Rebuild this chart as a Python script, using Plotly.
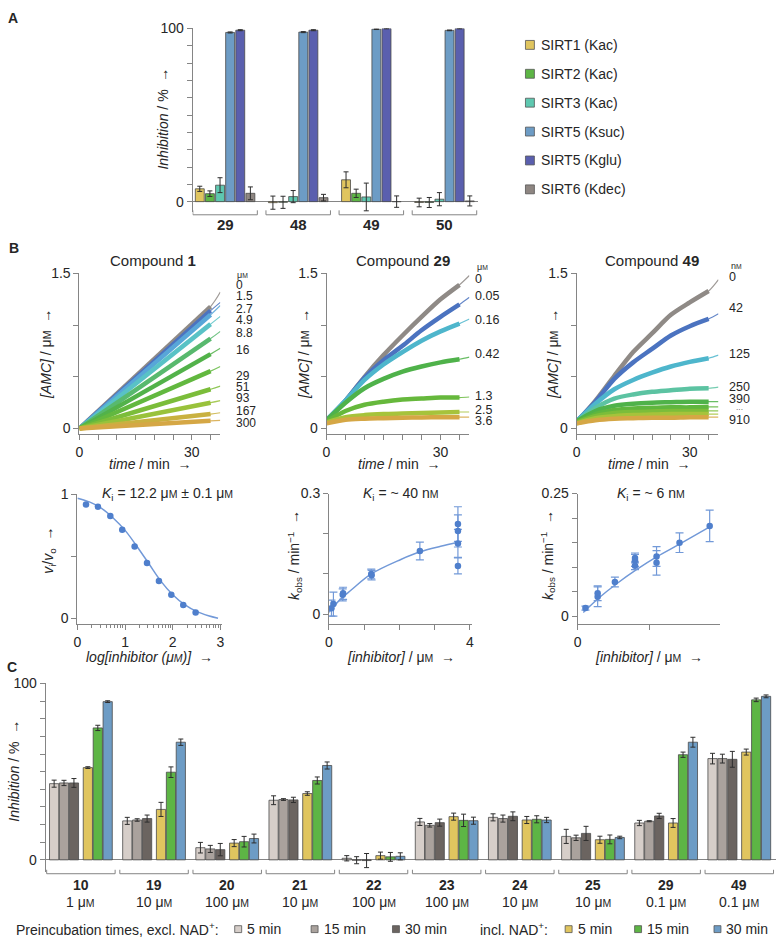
import numpy as np
import plotly.graph_objects as go

W, H = 780, 944


def fx(p):
    return p / W


def fy(p):
    return 1 - p / H


FONT = "Liberation Sans, Arial, Helvetica, sans-serif"
AX = "#858585"
TXT = "#262626"
BAR_EDGE = "#4a4a4a"
ERR = "#2e2e2e"
UM = "μ<span style='font-size:0.75em'>M</span>"
NM = "n<span style='font-size:0.75em'>M</span>"

# ================= DATA =================
# ---- Panel A: selectivity (% inhibition)
a_compounds = ["29", "48", "49", "50"]
a_series = ["SIRT1 (Kac)", "SIRT2 (Kac)", "SIRT3 (Kac)", "SIRT5 (Ksuc)", "SIRT5 (Kglu)", "SIRT6 (Kdec)"]
a_sirt1 = [7.4, -0.6, 12.6, -0.5]
a_sirt1_err = [1.5, 3.8, 4.6, 2.5]
a_sirt2 = [4.6, -0.4, 4.8, -0.5]
a_sirt2_err = [1.6, 3.5, 2.4, 2.9]
a_sirt3 = [9.5, 2.9, 2.7, 1.4]
a_sirt3_err = [4.3, 3.5, 8.0, 3.8]
a_sirt5_suc = [97.7, 97.9, 99.6, 98.9]
a_sirt5_suc_err = [0.3, 0.3, 0.2, 0.2]
a_sirt5_glu = [99.0, 99.0, 100.0, 100.0]
a_sirt5_glu_err = [0.3, 0.3, 0.2, 0.2]
a_sirt6 = [4.8, 2.3, 0.0, 0.4]
a_sirt6_err = [3.7, 1.9, 3.3, 2.9]

# ---- Panel B top: progress curves [AMC] (uM) vs time (min)
c1_conc = ["0", "1.5", "2.7", "4.9", "8.8", "16", "29", "51", "93", "167", "300"]
c1_times = [0, 35]
c1_amc = [[0, 1.18], [0, 1.14], [0, 1.10], [0, 1.01], [0, 0.87], [0, 0.72],
          [0, 0.555], [0, 0.38], [0, 0.25], [0, 0.14], [0, 0.075]]
c1_fit_end = [1.32, 1.22, 1.19, 1.085, 0.94, 0.776, 0.60, 0.41, 0.27, 0.153, 0.08]

c29_conc = ["0", "0.05", "0.16", "0.42", "1.3", "2.5", "3.6"]
c29_times = [0, 5, 10, 15, 20, 25, 30, 35]
c29_amc = [
    [0.08, 0.27, 0.50, 0.71, 0.90, 1.08, 1.25, 1.39],
    [0.08, 0.27, 0.49, 0.66, 0.80, 0.95, 1.08, 1.20],
    [0.08, 0.27, 0.47, 0.62, 0.74, 0.85, 0.94, 1.015],
    [0.08, 0.25, 0.39, 0.48, 0.55, 0.60, 0.64, 0.67],
    [0.07, 0.17, 0.23, 0.26, 0.28, 0.29, 0.30, 0.30],
    [0.06, 0.11, 0.13, 0.14, 0.145, 0.15, 0.155, 0.16],
    [0.05, 0.085, 0.095, 0.10, 0.105, 0.108, 0.11, 0.11]]
c29_fit_end = [1.48, 1.27, 1.06, 0.69, 0.305, 0.16, 0.11]

c49_conc = ["0", "42", "125", "250", "390", "", "", "", "910"]
c49_times = [0, 5, 10, 15, 20, 25, 30, 35]
c49_amc = [
    [0.06, 0.27, 0.51, 0.74, 0.92, 1.10, 1.22, 1.33],
    [0.07, 0.26, 0.48, 0.64, 0.77, 0.90, 0.99, 1.06],
    [0.07, 0.24, 0.38, 0.47, 0.54, 0.60, 0.645, 0.68],
    [0.07, 0.20, 0.29, 0.33, 0.355, 0.37, 0.385, 0.39],
    [0.07, 0.17, 0.22, 0.24, 0.25, 0.255, 0.26, 0.26],
    [0.06, 0.14, 0.18, 0.195, 0.20, 0.205, 0.205, 0.21],
    [0.06, 0.12, 0.15, 0.16, 0.165, 0.17, 0.17, 0.17],
    [0.05, 0.10, 0.12, 0.13, 0.135, 0.14, 0.14, 0.14],
    [0.05, 0.08, 0.095, 0.10, 0.105, 0.105, 0.11, 0.11]]
c49_fit_end = [1.44, 1.11, 0.71, 0.40, 0.26, 0.21, 0.17, 0.14, 0.11]
fit_end_time = 37.6

# ---- Panel B bottom
b1_logc = [0.18, 0.43, 0.69, 0.94, 1.20, 1.46, 1.71, 1.97, 2.22, 2.48]
b1_ratio = [0.92, 0.90, 0.827, 0.715, 0.58, 0.446, 0.30, 0.19, 0.107, 0.046]
b1_fit_x = [0, 0.25, 0.5, 0.75, 1.0, 1.25, 1.5, 1.75, 2.0, 2.25, 2.5, 2.75, 2.95]
b1_fit_y = [0.97, 0.94, 0.89, 0.81, 0.71, 0.58, 0.44, 0.30, 0.19, 0.11, 0.055, 0.02, 0.0]

b29_conc = [0.07, 0.126, 0.39, 0.40, 1.20, 1.21, 2.58, 3.66, 3.66, 3.66, 3.66]
b29_kobs = [0.015, 0.025, 0.048, 0.052, 0.100, 0.097, 0.157, 0.224, 0.207, 0.176, 0.12]
b29_err = [0.02, 0.03, 0.015, 0.015, 0.012, 0.012, 0.022, 0.043, 0.04, 0.035, 0.02]
b29_fit_x = [0, 0.3, 0.63, 1.2, 2.04, 2.58, 3.17, 3.66]
b29_fit_y = [0.005, 0.035, 0.06, 0.10, 0.136, 0.155, 0.169, 0.179]

b49_conc = [0.055, 0.14, 0.14, 0.26, 0.40, 0.40, 0.40, 0.55, 0.55, 0.71, 0.92]
b49_kobs = [0.017, 0.040, 0.047, 0.070, 0.114, 0.119, 0.103, 0.122, 0.109, 0.15, 0.184]
b49_err = [0.004, 0.02, 0.015, 0.01, 0.012, 0.01, 0.008, 0.02, 0.025, 0.02, 0.032]
b49_fit_x = [0.04, 0.15, 0.27, 0.41, 0.55, 0.71, 0.92]
b49_fit_y = [0.008, 0.038, 0.066, 0.095, 0.121, 0.147, 0.182]

# ---- Panel C: preincubation (% inhibition)
c_compounds = ["10", "19", "20", "21", "22", "23", "24", "25", "29", "49"]
c_conc = ["1", "10", "100", "10", "100", "100", "10", "10", "0.1", "0.1"]
c_series = ["5 min", "15 min", "30 min", "5 min", "15 min", "30 min"]
c_excl_5 = [43.2, 22.1, 6.9, 33.8, 0.9, 21.5, 24.1, 13.3, 20.9, 57.4]
c_excl_5_err = [2.0, 2.0, 3.0, 2.5, 1.5, 2.0, 2.0, 4.0, 1.5, 3.0]
c_excl_15 = [43.6, 22.6, 6.2, 34.2, -0.2, 19.6, 23.4, 12.5, 21.9, 57.4]
c_excl_15_err = [1.5, 0.7, 2.0, 0.5, 2.0, 1.0, 2.0, 1.5, 0.3, 2.5]
c_excl_30 = [43.6, 23.4, 5.8, 34.0, -0.4, 21.1, 24.7, 15.0, 24.9, 57.0]
c_excl_30_err = [2.5, 2.0, 3.5, 1.5, 4.0, 2.0, 2.5, 4.0, 1.5, 4.5]
c_incl_5 = [52.3, 28.6, 9.5, 37.6, 2.4, 24.5, 22.6, 11.4, 20.9, 61.1]
c_incl_5_err = [0.5, 4.0, 2.0, 1.0, 2.0, 2.0, 2.0, 2.0, 2.5, 1.7]
c_incl_15 = [74.8, 49.7, 10.3, 45.0, 1.7, 22.4, 23.0, 11.6, 59.6, 90.7]
c_incl_15_err = [1.5, 3.0, 3.0, 2.0, 2.5, 3.5, 2.0, 2.5, 1.5, 1.0]
c_incl_30 = [89.7, 66.7, 12.1, 53.5, 2.0, 22.2, 22.6, 12.7, 66.7, 92.7]
c_incl_30_err = [0.5, 1.8, 2.5, 2.0, 2.0, 2.0, 1.5, 0.7, 2.8, 0.8]

# ================= STYLE =================
a_colors = ["#e0c55f", "#5db545", "#5ec8b0", "#6d9cc5", "#5a5fae", "#8e8682"]
a_offsets = [-0.346, -0.2076, -0.069, 0.069, 0.2076, 0.346]
a_width = 0.122
c_colors = ["#d6cec9", "#aaa29d", "#6b6460", "#e0c55f", "#5db545", "#6d9cc5"]
c_offsets = [-0.366, -0.231, -0.095, 0.095, 0.231, 0.366]
c_width = 0.126
c1_colors = ["#8f8a86", "#4b73c0", "#58a6d8", "#59c2c6", "#58b96e", "#52b24a",
             "#62b83f", "#7bbd3a", "#99c23b", "#c9b140", "#d5a745"]
c29_colors = ["#8f8a86", "#4b73c0", "#4eb6cc", "#4fb24a", "#66b83c", "#a6c33b", "#d5a745"]
c49_colors = ["#8f8a86", "#4b73c0", "#4eb6cc", "#5cc3a2", "#4fb24a", "#5fb63e",
              "#7cbd3a", "#a6c33b", "#d5a745"]
c1_label_y = [280, 291, 304, 315.7, 328.7, 346, 372, 383, 394.5, 407.2, 419.3]
c29_label_y = [273.5, 291, 315.7, 349.3, 392.3, 406, 417.3]
c49_label_y = [272, 303, 350, 383, 395.5, None, None, None, 416.5]
PT = "#4f7fcc"
PT_ERR = "#7299d8"

fig = go.Figure()
ann = []
shapes = []


def text(x, y, s, size=14, xanchor="center", yanchor="middle", angle=0, color=TXT,
         xref="paper", yref="paper"):
    ann.append(dict(x=fx(x) if xref == "paper" else x, y=fy(y) if yref == "paper" else y,
                    text=s, showarrow=False, xref=xref, yref=yref, textangle=angle,
                    xanchor=xanchor, yanchor=yanchor,
                    font=dict(family=FONT, size=size, color=color)))


def line(x0, y0, x1, y1, xref="paper", color=AX, width=1):
    shapes.append(dict(type="line", xref=xref, yref="paper",
                       x0=fx(x0) if xref == "paper" else x0, x1=fx(x1) if xref == "paper" else x1,
                       y0=fy(y0), y1=fy(y1), line=dict(color=color, width=width)))


def rect(x, y, s, color):
    shapes.append(dict(type="rect", xref="paper", yref="paper", x0=fx(x - s / 2), x1=fx(x + s / 2),
                       y0=fy(y + s / 2), y1=fy(y - s / 2), fillcolor=color,
                       line=dict(color="#555555", width=0.8)))


def bars(xidx, vals, errs, color, off, width, xa, ya):
    fig.add_trace(go.Bar(x=xidx, y=vals, width=width, offset=off - width / 2,
                         marker=dict(color=color, line=dict(color=BAR_EDGE, width=0.8)),
                         error_y=dict(type="data", array=errs, color=ERR, thickness=1, width=2.5),
                         xaxis=xa, yaxis=ya, showlegend=False, hoverinfo="skip"))


# ---------- Panel A ----------
a_idx = list(range(len(a_compounds)))
a_vals = [a_sirt1, a_sirt2, a_sirt3, a_sirt5_suc, a_sirt5_glu, a_sirt6]
a_errs = [a_sirt1_err, a_sirt2_err, a_sirt3_err, a_sirt5_suc_err, a_sirt5_glu_err, a_sirt6_err]
for k in range(6):
    bars(a_idx, a_vals[k], a_errs[k], a_colors[k], a_offsets[k], a_width, "x", "y")
for i, c in enumerate(a_compounds):
    line(i - 0.441, 204.5, i - 0.441, 209, xref="x")
    line(i - 0.441, 209, i + 0.441, 209, xref="x")
    line(i + 0.441, 209, i + 0.441, 204.5, xref="x")
    text(i, 219, "<b>%s</b>" % c, size=15, xref="x")
for k, name in enumerate(a_series):
    yy = 37.3 + k * 29.2
    rect(530, yy, 9, a_colors[k])
    text(539, yy, name, size=14, xanchor="left")
text(160, 112, "<i>Inhibition</i> / %  →", size=14, angle=-90)
text(9, 10, "<b>A</b>", size=14)

# ---------- Panel B top ----------
def progress(times, amc, fit_end, colors, xa, ya):
    for k in range(len(amc)):
        fig.add_trace(go.Scatter(x=times + [fit_end_time], y=amc[k] + [fit_end[k]], mode="lines",
                                 line=dict(color=colors[k], width=1.2, shape="spline", smoothing=0.8),
                                 opacity=0.85, xaxis=xa, yaxis=ya, showlegend=False, hoverinfo="skip"))
    for k in range(len(amc)):
        fig.add_trace(go.Scatter(x=times, y=amc[k], mode="lines",
                                 line=dict(color=colors[k], width=4.5, shape="spline", smoothing=0.8),
                                 xaxis=xa, yaxis=ya, showlegend=False, hoverinfo="skip"))


progress(c1_times, c1_amc, c1_fit_end, c1_colors, "x2", "y2")
progress(c29_times, c29_amc, c29_fit_end, c29_colors, "x3", "y3")
progress(c49_times, c49_amc, c49_fit_end, c49_colors, "x4", "y4")

text(233, 270, UM, size=9, xanchor="left")
for lab, yy in zip(c1_conc, c1_label_y):
    text(232, yy, lab, size=12, xanchor="left")
text(475, 261.5, UM, size=9, xanchor="left")
for lab, yy in zip(c29_conc, c29_label_y):
    text(473, yy, lab, size=12.5, xanchor="left")
text(731, 261, NM, size=9, xanchor="left")
for lab, yy in zip(c49_conc, c49_label_y):
    if yy is not None:
        text(729, yy, lab, size=12.5, xanchor="left")
text(736, 405.5, "···", size=7, xanchor="left")

for cx, lab in [(150, "1"), (402, "29"), (653, "49")]:
    text(cx, 255, "Compound <b>%s</b>" % lab, size=15)
for ylx, cx in [(43, 147), (303, 398), (554, 650)]:
    text(ylx, 350, "<i>[AMC]</i> / %s  →" % UM, size=14, angle=-90)
    text(cx, 461, "<i>time</i> / min  →", size=14)
text(10, 243, "<b>B</b>", size=14)

# ---------- Panel B bottom ----------
fig.add_trace(go.Scatter(x=b1_fit_x, y=b1_fit_y, mode="lines", line=dict(color=PT_ERR, width=1.5, shape="spline"),
                         xaxis="x5", yaxis="y5", showlegend=False, hoverinfo="skip"))
fig.add_trace(go.Scatter(x=b1_logc, y=b1_ratio, mode="markers", marker=dict(color=PT, size=6.5),
                         xaxis="x5", yaxis="y5", showlegend=False, hoverinfo="skip"))
fig.add_trace(go.Scatter(x=b29_fit_x, y=b29_fit_y, mode="lines", line=dict(color=PT_ERR, width=1.5, shape="spline"),
                         xaxis="x6", yaxis="y6", showlegend=False, hoverinfo="skip"))
fig.add_trace(go.Scatter(x=b29_conc, y=b29_kobs, mode="markers", marker=dict(color=PT, size=6.5),
                         error_y=dict(type="data", array=b29_err, color=PT_ERR, thickness=1.2, width=4),
                         xaxis="x6", yaxis="y6", showlegend=False, hoverinfo="skip"))
fig.add_trace(go.Scatter(x=b49_fit_x, y=b49_fit_y, mode="lines", line=dict(color=PT_ERR, width=1.5, shape="spline"),
                         xaxis="x7", yaxis="y7", showlegend=False, hoverinfo="skip"))
fig.add_trace(go.Scatter(x=b49_conc, y=b49_kobs, mode="markers", marker=dict(color=PT, size=6.5),
                         error_y=dict(type="data", array=b49_err, color=PT_ERR, thickness=1.2, width=4),
                         xaxis="x7", yaxis="y7", showlegend=False, hoverinfo="skip"))

text(165, 491, "<i>K</i><sub>i</sub> = 12.2 %s ± 0.1 %s" % (UM, UM), size=14)
text(400, 491, "<i>K</i><sub>i</sub> = ~ 40 %s" % NM, size=14)
text(652, 491, "<i>K</i><sub>i</sub> = ~ 6 %s" % NM, size=14)
text(46, 548, "<i>v</i><sub>i</sub>/<i>v</i><sub>o</sub>  →", size=14, angle=-90)
text(293, 553, "<i>k</i><sub>obs</sub> / min<sup>−1</sup>  →", size=14, angle=-90)
text(548, 553, "<i>k</i><sub>obs</sub> / min<sup>−1</sup>  →", size=14, angle=-90)
text(147, 656, "<i>log[inhibitor (%s)]</i>  →" % UM, size=14)
text(400, 656, "<i>[inhibitor]</i> / %s  →" % UM, size=14)
text(650, 656, "<i>[inhibitor]</i> / %s  →" % UM, size=14)

# ---------- Panel C ----------
c_idx = list(range(len(c_compounds)))
c_vals = [c_excl_5, c_excl_15, c_excl_30, c_incl_5, c_incl_15, c_incl_30]
c_errs = [c_excl_5_err, c_excl_15_err, c_excl_30_err, c_incl_5_err, c_incl_15_err, c_incl_30_err]
for k in range(6):
    bars(c_idx, c_vals[k], c_errs[k], c_colors[k], c_offsets[k], c_width, "x8", "y8")
for i, (c, cc) in enumerate(zip(c_compounds, c_conc)):
    line(i - 0.468, 871, i - 0.468, 875, xref="x8")
    line(i - 0.468, 875, i + 0.468, 875, xref="x8")
    line(i + 0.468, 875, i + 0.468, 871, xref="x8")
    text(i, 886, "<b>%s</b>" % c, size=14, xref="x8")
    text(i, 904, "%s %s" % (cc, UM), size=14, xref="x8")
text(10, 771, "<i>Inhibition</i> / %  →", size=14, angle=-90)
text(8, 666, "<b>C</b>", size=14)

# legend row
text(10, 931, "Preincubation times, excl. NAD<sup>+</sup>:", size=14, xanchor="left")
text(478, 931, "incl. NAD<sup>+</sup>:", size=14, xanchor="left")
leg_sq_x = [236, 313, 395, 569, 639, 719]
for k in range(6):
    rect(leg_sq_x[k], 931, 7, c_colors[k])
    text(leg_sq_x[k] + 7, 931, c_series[k], size=14, xanchor="left")


# ================= AXES =================
def axis(domain, rng, anchor, tickvals=None, ticktext=None, showline=True, visible=True, **kw):
    d = dict(domain=domain, range=rng, anchor=anchor, showgrid=False, zeroline=False,
             showline=showline, linecolor=AX, linewidth=1, ticklen=5, tickcolor=AX, tickwidth=1,
             tickfont=dict(family=FONT, size=14, color=TXT), fixedrange=True, visible=visible)
    if tickvals is not None:
        d.update(ticks="outside", tickmode="array", tickvals=tickvals, ticktext=ticktext)
    else:
        d.update(ticks="", showticklabels=False)
    d.update(kw)
    return d


def xd(a, b):
    return [fx(a), fx(b)]


def yd(bottom, top):
    return [fy(bottom), fy(top)]


t10 = list(range(0, 101, 10))
t10_txt = ["0"] + [""] * 9 + ["100"]
time_ticks = list(range(0, 36, 5))
time_txt = ["0", "", "", "", "", "", "30", ""]
amc_ticks = [0, 0.5, 1.0, 1.5]
amc_txt = ["0", "", "", "1.5"]
minor_log = [np.log10(m) + d for d in range(3) for m in range(2, 10)]

layout_axes = dict(
    xaxis=axis(xd(190, 478), [-0.445, 3.463], "y", visible=False),
    yaxis=axis(yd(206.2, 20.7), [-6, 100], "x", t10, t10_txt, zeroline=True, zerolinecolor=AX, zerolinewidth=1),
    xaxis2=axis(xd(76, 218), [0, 37.6], "y2", time_ticks, time_txt),
    yaxis2=axis(yd(430.8, 268.3), [-0.055, 1.5], "x2", amc_ticks, amc_txt),
    xaxis3=axis(xd(325, 469), [0, 37.6], "y3", time_ticks, time_txt),
    yaxis3=axis(yd(430.8, 268.3), [-0.055, 1.5], "x3", amc_ticks, amc_txt),
    xaxis4=axis(xd(577, 720), [0, 37.6], "y4", time_ticks, time_txt),
    yaxis4=axis(yd(430.8, 268.3), [-0.055, 1.5], "x4", amc_ticks, amc_txt),
    xaxis5=axis(xd(74, 220), [0, 3.04], "y5", [0, 1, 2, 3], ["0", "1", "2", "3"],
                minor=dict(tickmode="array", tickvals=minor_log, ticks="outside", ticklen=3, tickcolor=AX)),
    yaxis5=axis(yd(623, 491.7), [-0.05, 1.0], "x5", [0, 0.5, 1], ["0", "", "1"]),
    xaxis6=axis(xd(327.5, 472), [0, 4.07], "y6", [0, 1, 2, 3, 4], ["0", "", "", "", "4"]),
    yaxis6=axis(yd(623, 490.7), [-0.0254, 0.3], "x6", [0, 0.1, 0.2, 0.3], ["0", "", "", "0.3"]),
    xaxis7=axis(xd(578, 722), [0, 0.995], "y7", [0, 0.5, 1], ["0", "", "1"]),
    yaxis7=axis(yd(623, 490.7), [-0.0162, 0.25], "x7", [0, 0.05, 0.1, 0.15, 0.2, 0.25],
                ["0", "", "", "", "", "0.25"]),
    xaxis8=axis(xd(42, 778), [-0.4815, 9.502], "y8", visible=False),
    yaxis8=axis(yd(873.1, 682.7), [-6.8, 100], "x8", t10, t10_txt, zeroline=True, zerolinecolor=AX, zerolinewidth=1),
)

fig.update_layout(
    width=W, height=H, margin=dict(l=0, r=0, t=0, b=0),
    paper_bgcolor="white", plot_bgcolor="rgba(0,0,0,0)",
    barmode="overlay", showlegend=False,
    font=dict(family=FONT, size=14, color=TXT),
    annotations=ann, shapes=shapes, **layout_axes)

fig.write_html("out.html",
               config={"displayModeBar": False, "staticPlot": True},
               post_script="document.body.style.margin='0px';"
                           "document.documentElement.style.overflow='hidden';"
                           "document.body.style.overflow='hidden';")
